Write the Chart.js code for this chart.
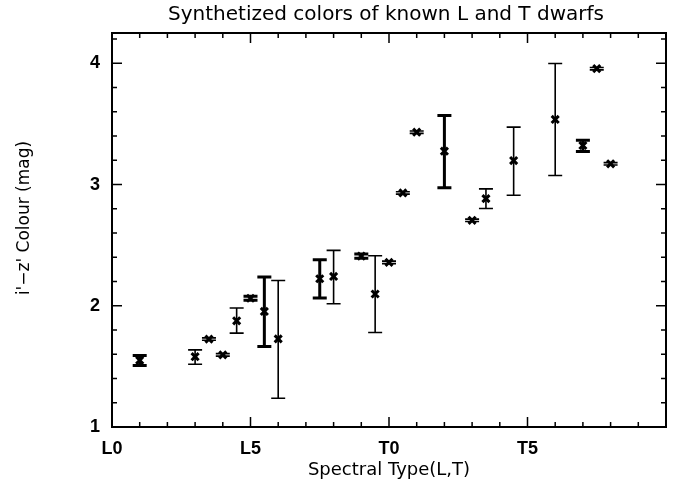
<!DOCTYPE html>
<html>
<head>
<meta charset="utf-8">
<script src="https://cdn.jsdelivr.net/npm/chart.js@4/dist/chart.umd.min.js"></script>
<style>
  html, body { margin: 0; padding: 0; background: #fff; }
  #wrap { width: 685px; height: 481px; }
</style>
</head>
<body>
<div id="wrap"><canvas id="c" width="685" height="481"></canvas></div>
<script>
// ---- data ----
const spectralType = [1, 3, 3.5, 4, 4.5, 5, 5.5, 6, 7.5, 8, 9, 9.5, 10, 10.5, 11, 12, 13, 13.5, 14.5, 16, 17, 17.5, 18];
const colourIZ     = [1.55, 1.58, 1.725, 1.595, 1.876, 2.062, 1.953, 1.727, 2.223, 2.242, 2.41, 2.097, 2.358, 2.931, 3.432, 3.275, 2.705, 2.884, 3.198, 3.537, 3.322, 3.956, 3.171];
const colourLow    = [1.508, 1.518, 1.715, 1.585, 1.774, 2.045, 1.664, 1.237, 2.064, 2.017, 2.392, 1.779, 2.348, 2.921, 3.422, 2.973, 2.695, 2.802, 2.912, 3.074, 3.273, 3.946, 3.161];
const colourHigh   = [1.590, 1.636, 1.735, 1.605, 1.981, 2.079, 2.237, 2.209, 2.380, 2.457, 2.428, 2.413, 2.368, 2.941, 3.442, 3.570, 2.715, 2.964, 3.474, 3.998, 3.366, 3.966, 3.181];
const xTickValues  = [0, 5, 10, 15];
const xTickLabels  = ['L0', 'L5', 'T0', 'T5'];
const yTickValues  = [1, 2, 3, 4];
const yTickLabels  = ['1', '2', '3', '4'];
const boldBars     = [0, 5, 6, 8, 10, 15, 20];

const points = spectralType.map((x, i) => ({ x: x, y: colourIZ[i] }));

const FONT = '"Liberation Sans", "DejaVu Sans", sans-serif';
const TFONT = '"DejaVu Sans", sans-serif';

const framePlugin = {
  id: 'frame',
  afterDatasetsDraw(chart) {
    const ctx = chart.ctx;
    const xs = chart.scales.x, ys = chart.scales.y;
    const a = chart.chartArea;
    ctx.save();
    ctx.strokeStyle = '#000';
    // error bars
    spectralType.forEach((xv, i) => {
      const px = xs.getPixelForValue(xv);
      const pLo = ys.getPixelForValue(colourLow[i]);
      const pHi = ys.getPixelForValue(colourHigh[i]);
      ctx.lineWidth = boldBars.includes(i) ? 3 : 1.6;
      ctx.beginPath();
      ctx.moveTo(px, pLo); ctx.lineTo(px, pHi);
      ctx.moveTo(px - 7, pLo); ctx.lineTo(px + 7, pLo);
      ctx.moveTo(px - 7, pHi); ctx.lineTo(px + 7, pHi);
      ctx.stroke();
    });
    // frame
    ctx.lineWidth = 2;
    ctx.strokeRect(a.left, a.top, a.right - a.left, a.bottom - a.top);
    // inside ticks
    ctx.lineWidth = 1.5;
    ctx.beginPath();
    for (let v = xs.min; v <= xs.max + 1e-9; v += 1) {
      const px = xs.getPixelForValue(v);
      const len = (v % 5 === 0) ? 10 : 5;
      ctx.moveTo(px, a.bottom); ctx.lineTo(px, a.bottom - len);
      ctx.moveTo(px, a.top); ctx.lineTo(px, a.top + len);
    }
    for (let k = 0; k <= 16; k++) {
      const v = 1 + k * 0.2;
      if (v > ys.max + 1e-9) break;
      const py = ys.getPixelForValue(v);
      const len = (k % 5 === 0) ? 10 : 5;
      ctx.moveTo(a.left, py); ctx.lineTo(a.left + len, py);
      ctx.moveTo(a.right, py); ctx.lineTo(a.right - len, py);
    }
    ctx.stroke();
    // title
    ctx.fillStyle = '#000';
    ctx.font = '20px ' + TFONT;
    ctx.textAlign = 'center';
    ctx.textBaseline = 'middle';
    ctx.fillText('Synthetized colors of known L and T dwarfs', (a.left + a.right) / 2 - 3, 15);
    // y axis title
    ctx.font = '17px ' + TFONT;
    ctx.translate(25, 218);
    ctx.rotate(-Math.PI / 2);
    ctx.fillText("i'\u2212z' Colour (mag)", 0, 0);
    ctx.restore();
  }
};

new Chart(document.getElementById('c'), {
  type: 'scatter',
  data: {
    datasets: [{
      data: points,
      pointStyle: 'crossRot',
      pointRadius: 5,
      pointBorderWidth: 3,
      borderColor: '#000',
      backgroundColor: '#000',
      pointHoverRadius: 5
    }]
  },
  options: {
    responsive: false,
    animation: false,
    events: [],
    layout: { padding: { top: 33, right: 19, left: 0, bottom: 0 } },
    plugins: {
      legend: { display: false },
      tooltip: { enabled: false },
      title: { display: false }
    },
    scales: {
      x: {
        type: 'linear',
        min: 0,
        max: 20,
        afterBuildTicks: s => { s.ticks = xTickValues.map(v => ({ value: v })); },
        afterFit: s => { s.height = 54; },
        grid: { display: false },
        border: { display: false },
        ticks: {
          autoSkip: false,
          maxRotation: 0,
          padding: 3,
          color: '#000',
          font: { family: FONT, size: 18, weight: 'bold' },
          callback: v => { const i = xTickValues.indexOf(v); return i >= 0 ? xTickLabels[i] : ''; }
        },
        title: {
          display: true,
          text: 'Spectral Type(L,T)',
          color: '#000',
          font: { family: TFONT, size: 18 },
          padding: { top: 0, bottom: 0 }
        }
      },
      y: {
        type: 'linear',
        min: 1,
        max: 4.25,
        afterBuildTicks: s => { s.ticks = yTickValues.map(v => ({ value: v })); },
        afterFit: s => { s.width = 112; },
        grid: { display: false },
        border: { display: false },
        ticks: {
          autoSkip: false,
          padding: 4,
          color: '#000',
          font: { family: FONT, size: 18, weight: 'bold' },
          callback: v => { const i = yTickValues.indexOf(v); return i >= 0 ? yTickLabels[i] : ''; }
        },
        title: { display: false }
      }
    }
  },
  plugins: [framePlugin]
});
</script>
</body>
</html>
